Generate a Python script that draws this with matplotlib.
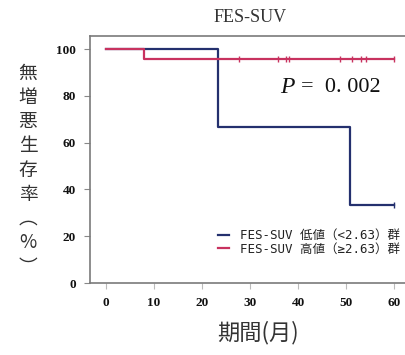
import matplotlib
matplotlib.use("Agg")
import matplotlib.pyplot as plt
from matplotlib.lines import Line2D

# Kaplan-Meier step data (months, survival %)
low_times = [0, 23.3, 50.8, 60]
low_surv = [100, 66.7, 33.3, 33.3]
low_censor_t = [60]

high_times = [0, 7.9, 60]
high_surv = [100, 95.8, 95.8]
high_censor_t = [27.8, 35.9, 37.5, 38.2, 48.7, 51.3, 53.2, 54.1, 60]

x_ticks = [0, 10, 20, 30, 40, 50, 60]
y_ticks = [0, 20, 40, 60, 80, 100]

title = "FES-SUV"
p_text = "0.002"
legend_labels = ["FES-SUV 低値（<2.63）群", "FES-SUV 高値（≥2.63）群"]
ylabel_chars = ["無", "増", "悪", "生", "存", "率", "︵", "%", "︶"]
xlabel = "期間(月)"

c_low = "#24306e"
c_high = "#c8325f"
cjk = ["Noto Sans CJK JP", "DejaVu Sans"]

fig = plt.figure(figsize=(4.06, 3.55), dpi=100)
ax = fig.add_axes([90 / 406, 1 - 283 / 355, 320 / 406, 247 / 355])

ax.step(low_times, low_surv, where="post", color=c_low, lw=1.6)
ax.step(high_times, high_surv, where="post", color=c_high, lw=1.6)
ax.plot(low_censor_t, [low_surv[-1]] * len(low_censor_t), ls="none",
        marker="|", ms=5, mew=1, color=c_low)
ax.plot(high_censor_t, [high_surv[-1]] * len(high_censor_t), ls="none",
        marker="|", ms=5, mew=1, color=c_high)

ax.set_xlim(-3.33, 63.33)
ax.set_ylim(0, 105.6)
ax.set_xticks(x_ticks)
ax.set_yticks(y_ticks)
for lab in ax.get_xticklabels() + ax.get_yticklabels():
    lab.set_fontfamily("Liberation Serif")
    lab.set_fontweight("bold")
    lab.set_fontsize(9.5)
    lab.set_color("#111111")
ax.tick_params(axis="x", length=4, color="#bbbbbb", pad=6)
ax.tick_params(axis="y", length=4, color="#888888", pad=6)

for side in ["left", "top", "bottom"]:
    ax.spines[side].set_color("#7a7a7a")
    ax.spines[side].set_linewidth(1.2)
ax.spines["right"].set_visible(False)

fig.text(250 / 406, 1 - 18 / 355, title, ha="center", va="center",
         fontfamily="Liberation Serif", fontsize=13, color="#333333")

ax.text(0.595, 0.79, "P", transform=ax.transAxes, fontsize=17,
        fontfamily="Liberation Serif", fontstyle="italic",
        ha="left", va="center", color="#111111")
ax.text(0.66, 0.79, "=  " + p_text.replace(".", ". "), transform=ax.transAxes,
        fontsize=16, fontfamily="Liberation Serif", ha="left", va="center",
        color="#111111")

handles = [Line2D([], [], color=c_low, lw=1.6), Line2D([], [], color=c_high, lw=1.6)]
leg = ax.legend(handles, legend_labels, loc="lower right",
                bbox_to_anchor=(1.005, 0.065), frameon=False,
                handlelength=0.9, handletextpad=0.9, labelspacing=0.05,
                prop={"family": ["DejaVu Sans Mono", "Noto Sans CJK JP"], "size": 9})
for t in leg.get_texts():
    t.set_color("#222222")

fig.text(28 / 406, 1 - 170 / 355, "\n".join(ylabel_chars), ha="center", va="center",
         fontfamily=cjk, fontsize=13.5, color="#333333", linespacing=1.2)

fig.text(258 / 406, 1 - 333 / 355, xlabel, ha="center", va="center",
         fontfamily=cjk, fontsize=16, color="#333333")

fig.savefig("out.png", dpi=100)
